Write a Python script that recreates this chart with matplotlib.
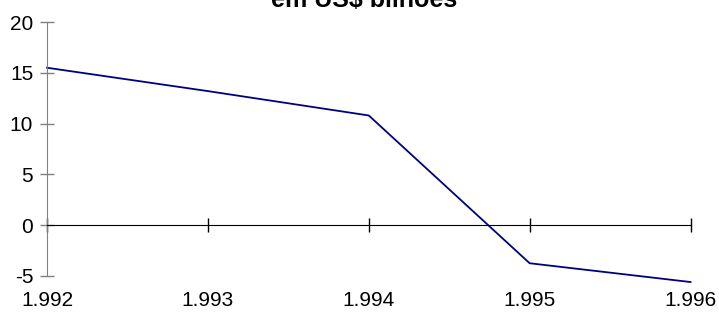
import matplotlib.pyplot as plt
import matplotlib.transforms as mtransforms

plt.rcParams['font.family'] = ['Liberation Sans', 'DejaVu Sans']

anos = [1992, 1993, 1994, 1995, 1996]
rotulos = ['1.992', '1.993', '1.994', '1.995', '1.996']
saldo = [15.5, 13.2, 10.8, -3.75, -5.6]
titulo = 'em US$ bilhões'

fig = plt.figure(figsize=(7.19, 3.15), dpi=100)
ax = fig.add_axes([0.0654, 0.124, 0.895, 0.806])

ax.plot(anos, saldo, color='#000080', lw=1.3, clip_on=False)

ax.set_xlim(1992, 1996)
ax.set_ylim(-5, 20)
ax.set_yticks([-5, 0, 5, 10, 15, 20])
ax.set_yticklabels(['-5', '0', '5', '10', '15', '20'])

for s in ['top', 'right']:
    ax.spines[s].set_visible(False)
ax.spines['left'].set_color('#808080')
ax.spines['bottom'].set_position(('data', 0))
ax.spines['bottom'].set_color('black')

ax.tick_params(axis='y', direction='inout', length=10, width=1, color='#808080',
               labelsize=15, pad=5)
ax.set_xticks(anos)
ax.tick_params(axis='x', direction='inout', length=10, width=1, color='black',
               labelbottom=False)

trans = mtransforms.blended_transform_factory(ax.transData, fig.transFigure)
for a, r in zip(anos, rotulos):
    ax.text(a, 1 - 301 / 315, r, transform=trans, ha='center', va='center',
            fontsize=15)

fig.text(0.506, 1 - 7 / 315, titulo, ha='center', va='baseline',
         fontsize=18, fontweight='bold')

fig.savefig('out.png', dpi=100)
